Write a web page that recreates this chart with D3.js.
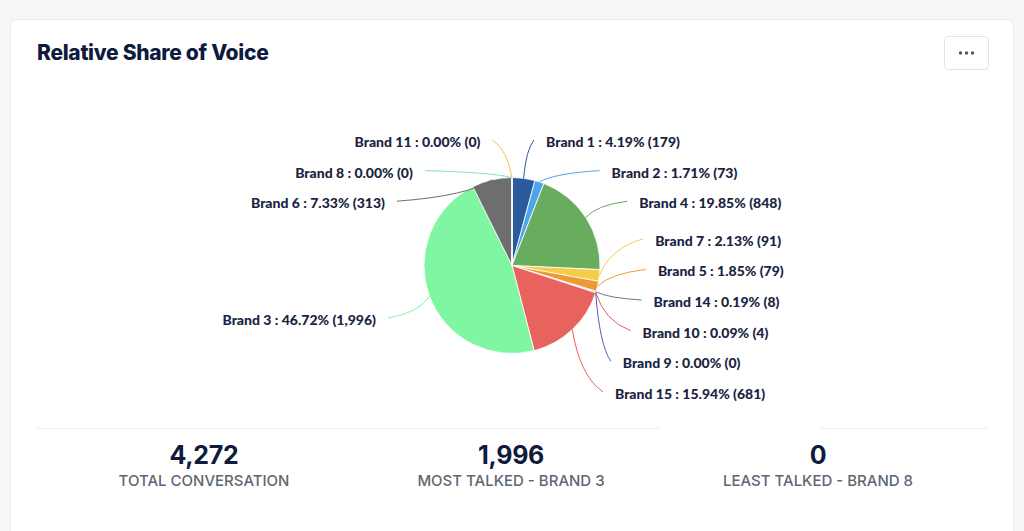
<!DOCTYPE html>
<html>
<head>
<meta charset="utf-8">
<script src="https://cdn.jsdelivr.net/npm/d3@7"></script>
<style>
  html, body { margin: 0; padding: 0; background: #f6f6f6; }
  body { width: 1024px; height: 531px; overflow: hidden; }
  svg { display: block; }
</style>
</head>
<body>
<svg id="chart" width="1024" height="531"></svg>
<script>
// ---- data (clockwise from 12 o'clock) ----
const brands = ["Brand 1", "Brand 2", "Brand 4", "Brand 7", "Brand 5", "Brand 14", "Brand 10",
                "Brand 9", "Brand 15", "Brand 3", "Brand 6", "Brand 8", "Brand 11"];
const mentions = [179, 73, 848, 91, 79, 8, 4, 0, 681, 1996, 313, 0, 0];
const sliceColors = ["#2b5b9c", "#4ea6ea", "#68ad5e", "#f4cc48", "#f09a36", "#6b7892", "#e0605c",
                     "#4b5fc0", "#e9635e", "#80f5a2", "#6e6e6e", "#87ded4", "#f3c15b"];
const titleText = "Relative Share of Voice";
const statCaptions = ["TOTAL CONVERSATION", "MOST TALKED - BRAND 3", "LEAST TALKED - BRAND 8"];
const leastBrand = "Brand 8";

// ---- setup ----
const svg = d3.select("#chart");
const data = brands.map((b, i) => ({ name: b, value: mentions[i], color: sliceColors[i] }));
const total = d3.sum(mentions);
const fmtPct = d3.format(".2f");
const fmtInt = d3.format(",");

// card
svg.append("rect").attr("x", 10.5).attr("y", 19.5).attr("width", 1003).attr("height", 530)
  .attr("rx", 7).attr("fill", "#fff").attr("stroke", "#ebebeb");

svg.append("text").attr("x", 37).attr("y", 60)
  .attr("font-family", "Inter, 'Open Sans', sans-serif").attr("font-weight", 800)
  .attr("font-size", 21).attr("fill", "#0e1b3c").attr("letter-spacing", -0.3)
  .text(titleText);

// menu button
const btn = svg.append("g").attr("transform", "translate(944,36)");
btn.append("rect").attr("x", 0.5).attr("y", 0.5).attr("width", 44).attr("height", 33).attr("rx", 4)
  .attr("fill", "#fff").attr("stroke", "#e3e3e3");
[-6, 0, 6].forEach(dx => btn.append("circle").attr("cx", 22.5 + dx).attr("cy", 17).attr("r", 1.7).attr("fill", "#555"));

// ---- pie ----
const cx = 512, cy = 265.5, r = 88;
const pie = d3.pie().value(d => d.value).sort(null).startAngle(0).endAngle(2 * Math.PI);
const arcs = pie(data);
const arc = d3.arc().innerRadius(0).outerRadius(r);
const g = svg.append("g").attr("transform", `translate(${cx},${cy})`);

// ---- label layout ----
const Rn = 156, gap = 30.6, yMin = 142, yMax = 396;
arcs.forEach((a, i) => {
  a.mid = (a.startAngle + a.endAngle) / 2;
  a.right = a.mid < Math.PI;
  a.ny = cy - Rn * Math.cos(a.mid);
  a.idx = i;
});
function distribute(items) {
  let clusters = items.map(it => ({ items: [it], sum: it.ny }));
  const place = c => {
    const n = c.items.length;
    let top = c.sum / n - (n - 1) * gap / 2;
    top = Math.max(yMin, Math.min(top, yMax - (n - 1) * gap));
    c.top = top; c.bottom = top + (n - 1) * gap;
  };
  clusters.forEach(place);
  let merged = true;
  while (merged) {
    merged = false;
    for (let i = 0; i < clusters.length - 1; i++) {
      if (clusters[i].bottom + gap > clusters[i + 1].top + 0.01) {
        const c = { items: clusters[i].items.concat(clusters[i + 1].items), sum: clusters[i].sum + clusters[i + 1].sum };
        place(c);
        clusters.splice(i, 2, c);
        merged = true;
        break;
      }
    }
  }
  clusters.forEach(c => c.items.forEach((it, k) => { it.ly = c.top + k * gap; }));
}
const rightSide = arcs.filter(a => a.right).sort((p, q) => p.ny - q.ny || p.idx - q.idx);
const leftSide = arcs.filter(a => !a.right).sort((p, q) => p.ny - q.ny || q.idx - p.idx);
distribute(rightSide);
distribute(leftSide);

function labelDx(dy, right) {
  const a = 146;
  const b = dy < 0 ? (right ? 127 : 126.5) : 150;
  let dx = a * Math.sqrt(Math.max(0, 1 - (dy / b) * (dy / b)));
  if (dy > 0) dx = Math.max(dx, 103);
  return dx;
}
arcs.forEach(a => {
  const dy = a.ly - cy;
  const dx = labelDx(dy, a.right);
  a.lx = a.right ? cx + dx : cx - dx;
  a.ex = a.right ? a.lx - 12 : a.lx + 12;
  a.ey = a.ly - 2;
  a.tx = cx + r * Math.sin(a.mid);
  a.ty = cy - r * Math.cos(a.mid);
});

// connectors
const conn = svg.append("g").attr("fill", "none").attr("stroke-width", 1);
arcs.forEach(a => {
  const mx = (a.tx + a.ex) / 2, my = (a.ty + a.ey) / 2;
  const kx = (a.tx + mx) / 2, ky = (a.ey + my) / 2;
  const p = d3.path();
  p.moveTo(a.tx, a.ty);
  p.quadraticCurveTo(kx, ky, a.ex, a.ey);
  conn.append("path").attr("d", p.toString()).attr("stroke", a.data.color);
});

// slices
g.selectAll("path.slice").data(arcs).join("path").attr("class", "slice")
  .attr("d", arc).attr("fill", d => d.data.color)
  .attr("stroke", "#fff").attr("stroke-width", 0.8).attr("stroke-linejoin", "round");

// labels
svg.append("g").selectAll("text").data(arcs).join("text")
  .attr("x", d => d.lx).attr("y", d => d.ly).attr("dy", "0.35em")
  .attr("text-anchor", d => d.right ? "start" : "end")
  .attr("font-family", "Lato, 'Open Sans', sans-serif").attr("font-weight", 900)
  .attr("font-size", 14).attr("fill", "#1a2442")
  .text(d => `${d.data.name} : ${fmtPct(d.value / total * 100)}% (${fmtInt(d.value)})`);

// ---- summary ----
svg.append("line").attr("x1", 37).attr("x2", 660).attr("y1", 428.5).attr("y2", 428.5).attr("stroke", "#eeeeee");
svg.append("line").attr("x1", 820).attr("x2", 988).attr("y1", 428.5).attr("y2", 428.5).attr("stroke", "#eeeeee");

const most = d3.greatest(data, d => d.value);
const least = data.find(d => d.name === leastBrand);
const statValues = [total, most.value, least.value];
const statX = d3.scalePoint().domain(d3.range(3)).range([204, 818]);
const stats = svg.append("g").selectAll("g").data(statValues).join("g")
  .attr("transform", (d, i) => `translate(${statX(i)},0)`);
stats.append("text").attr("y", 464).attr("text-anchor", "middle")
  .attr("font-family", "Inter, 'Open Sans', sans-serif").attr("font-weight", 700)
  .attr("font-size", 25).attr("fill", "#0e1b3c").attr("letter-spacing", -0.3)
  .text(d => fmtInt(d));
stats.append("text").attr("y", 486).attr("text-anchor", "middle")
  .attr("font-family", "Inter, 'Open Sans', sans-serif").attr("font-weight", 500)
  .attr("font-size", 15).attr("fill", "#5f6673")
  .text((d, i) => statCaptions[i]);
</script>
</body>
</html>
